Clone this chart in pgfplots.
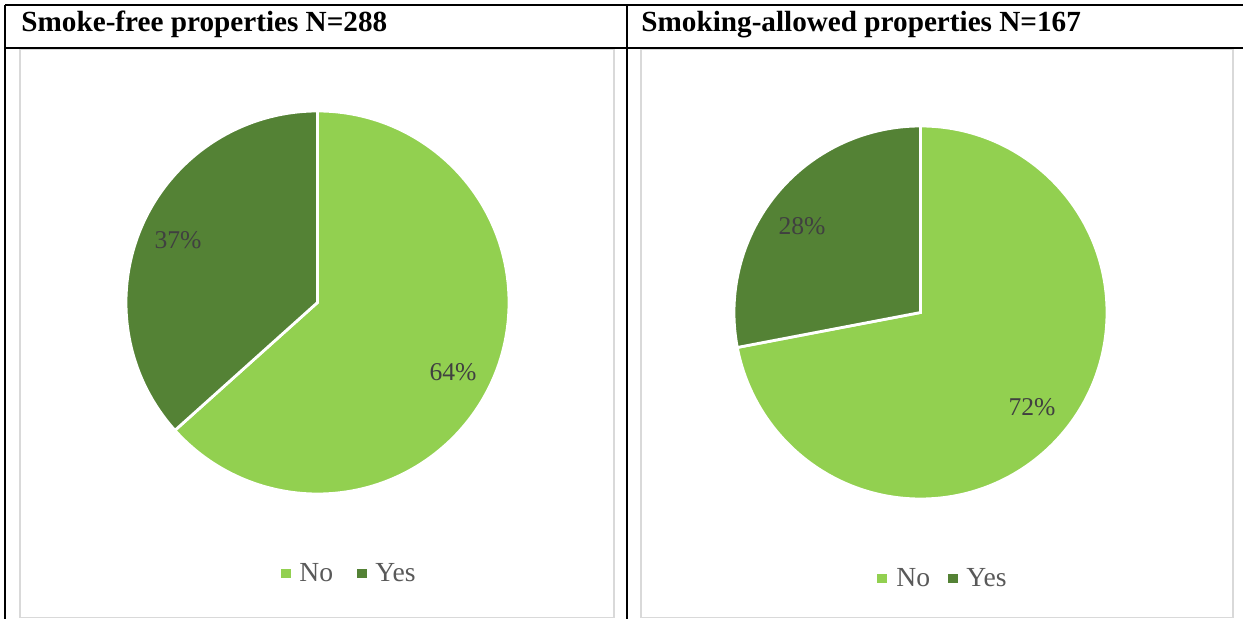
\documentclass[border=0pt]{standalone}
\usepackage{pgfplots}
\pgfplotsset{compat=1.18}
\usepackage{pgfplotstable}
\usepackage{fontspec}
\setmainfont{Liberation Serif}
\definecolor{gno}{HTML}{92D050}
\definecolor{gyes}{HTML}{548235}
\definecolor{lbl}{HTML}{404040}
\definecolor{leg}{HTML}{595959}
\definecolor{frm}{HTML}{D9D9D9}

\pgfplotstableread{
cat value
No 64
Yes 37
}\smokefree
\pgfplotstableread{
cat value
No 72
Yes 28
}\smokingallowed

\begin{document}
\begin{tikzpicture}
\pgfplotstablegetelem{0}{value}\of\smokefree \let\aNo\pgfplotsretval
\pgfplotstablegetelem{1}{value}\of\smokefree \let\aYes\pgfplotsretval
\pgfplotstablegetelem{0}{value}\of\smokingallowed \let\bNo\pgfplotsretval
\pgfplotstablegetelem{1}{value}\of\smokingallowed \let\bYes\pgfplotsretval
\pgfmathsetmacro\angA{90-360*(\aNo/(\aNo+\aYes))}
\pgfmathsetmacro\angB{90-360*(\bNo/(\bNo+\bYes))}
\begin{axis}[
  width=621.5pt, height=309.5pt, scale only axis,
  xmin=0, xmax=1243, ymin=0, ymax=619, y dir=reverse,
  hide axis, clip=false]
% table lines
\draw[black, line width=0.7pt] (axis cs:5,5) -- (axis cs:1243,5);
\draw[black, line width=0.7pt] (axis cs:5,48) -- (axis cs:1243,48);
\draw[black, line width=0.7pt] (axis cs:5,5) -- (axis cs:5,619);
\draw[black, line width=0.7pt] (axis cs:627,5) -- (axis cs:627,619);
% chart frames
\draw[frm, line width=0.75pt] (axis cs:20,49.5) rectangle (axis cs:614,617.5);
\draw[frm, line width=0.75pt] (axis cs:641,49.5) rectangle (axis cs:1233,617.5);
% headers
\node[anchor=base west, inner sep=0pt, font=\fontsize{14.6}{16}\selectfont\bfseries] at (axis cs:21,31.5) {Smoke-free properties N=288};
\node[anchor=base west, inner sep=0pt, font=\fontsize{14.6}{16}\selectfont\bfseries] at (axis cs:641,31.5) {Smoking-allowed properties N=167};
% left pie
\fill[gno, draw=white, line width=1.4pt] (axis cs:317.5,302.5) -- ++(90:95.75pt) arc[start angle=90, end angle=\angA, radius=95.75pt] -- cycle;
\fill[gyes, draw=white, line width=1.4pt] (axis cs:317.5,302.5) -- ++(\angA:95.75pt) arc[start angle=\angA, end angle=-270, radius=95.75pt] -- cycle;
% right pie
\fill[gno, draw=white, line width=1.4pt] (axis cs:920.5,312.5) -- ++(90:93.25pt) arc[start angle=90, end angle=\angB, radius=93.25pt] -- cycle;
\fill[gyes, draw=white, line width=1.4pt] (axis cs:920.5,312.5) -- ++(\angB:93.25pt) arc[start angle=\angB, end angle=-270, radius=93.25pt] -- cycle;
% data labels
\node[lbl, font=\fontsize{12.8}{14}\selectfont, inner sep=0pt] at (axis cs:178,240) {37\%};
\node[lbl, font=\fontsize{12.8}{14}\selectfont, inner sep=0pt] at (axis cs:453,372) {64\%};
\node[lbl, font=\fontsize{12.8}{14}\selectfont, inner sep=0pt] at (axis cs:802,226) {28\%};
\node[lbl, font=\fontsize{12.8}{14}\selectfont, inner sep=0pt] at (axis cs:1032,407) {72\%};
% legends
\fill[gno] (axis cs:281,569) rectangle (axis cs:290.5,578);
\node[leg, anchor=base west, inner sep=0pt, font=\fontsize{13.8}{15}\selectfont] at (axis cs:299,582) {No};
\fill[gyes] (axis cs:357,569) rectangle (axis cs:366.5,578);
\node[leg, anchor=base west, inner sep=0pt, font=\fontsize{13.8}{15}\selectfont] at (axis cs:375,582) {Yes};
\fill[gno] (axis cs:877,574) rectangle (axis cs:886.5,583);
\node[leg, anchor=base west, inner sep=0pt, font=\fontsize{13.8}{15}\selectfont] at (axis cs:896,587) {No};
\fill[gyes] (axis cs:948,574) rectangle (axis cs:957.5,583);
\node[leg, anchor=base west, inner sep=0pt, font=\fontsize{13.8}{15}\selectfont] at (axis cs:966,587) {Yes};
\end{axis}
\pgfresetboundingbox
\path (0,0) rectangle (621.5pt,309.5pt);
\end{tikzpicture}
\end{document}
